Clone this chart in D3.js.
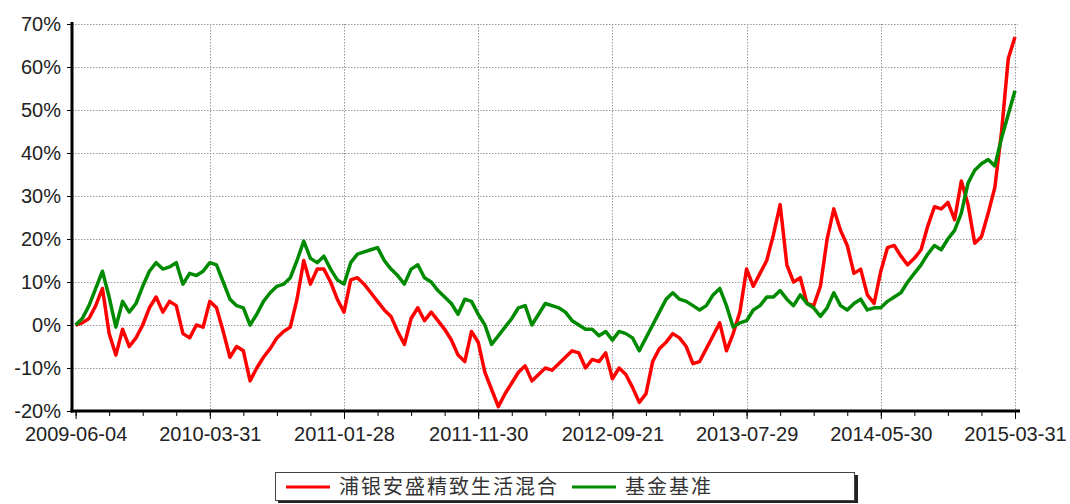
<!DOCTYPE html>
<html>
<head>
<meta charset="utf-8">
<script src="https://cdn.jsdelivr.net/npm/d3@7"></script>
<style>
  html, body { margin: 0; padding: 0; background: #fff; }
  svg { display: block; }
</style>
</head>
<body>
<svg id="chart" width="1070" height="504"></svg>
<script>
const tickLabels = ["2009-06-04","2010-03-31","2011-01-28","2011-11-30","2012-09-21","2013-07-29","2014-05-30","2015-03-31"];
const yTicks = [-20, -10, 0, 10, 20, 30, 40, 50, 60, 70];
const seriesNames = ["浦银安盛精致生活混合", "基金基准"];
const fundReturn = [
  0, 0.5, 1.5, 4.5, 8.5, -2, -7, -1, -5, -3,
  0, 4, 6.5, 3, 5.5, 4.5, -2, -3, 0, -0.5,
  5.5, 4, -1.5, -7.5, -5, -6, -13, -10, -7.5, -5.5,
  -3, -1.5, -0.5, 6, 15, 9.5, 13, 13, 10, 6,
  3, 10.5, 11, 9.5, 7.5, 5.5, 3.5, 2, -1.5, -4.5,
  1.5, 4, 1, 3, 1, -1, -3.5, -7, -8.5, -1.5,
  -4, -11, -15, -19, -16, -13.5, -11, -9.5, -13, -11.5,
  -10, -10.5, -9, -7.5, -6, -6.5, -10, -8, -8.5, -6.5,
  -12.5, -10, -11.5, -14.5, -18, -16, -8.5, -5.5, -4, -2,
  -3, -5, -9, -8.5, -5.5, -2.5, 0.5, -6, -2, 3,
  13, 9, 12, 15, 21, 28, 14, 10, 11, 5,
  4.5, 9, 20, 27, 22, 18.5, 12, 13, 7, 5,
  12.5, 18, 18.5, 16, 14, 15.5, 17.5, 23, 27.5, 27,
  28.5, 24.5, 33.5, 28, 19, 20.5, 26, 32, 45, 62,
  67
];
const benchReturn = [
  0, 1.5, 4.5, 8.5, 12.5, 6.5, -0.5, 5.5, 3, 5,
  9, 12.5, 14.5, 13, 13.5, 14.5, 9.5, 12, 11.5, 12.5,
  14.5, 14, 10, 6, 4.5, 4, 0, 2.5, 5.5, 7.5,
  9, 9.5, 11, 15, 19.5, 15.5, 14.5, 16, 13, 10.5,
  9.5, 14.5, 16.5, 17, 17.5, 18, 15, 13, 11.5, 9.5,
  13, 14, 11, 10, 8, 6.5, 5, 2.5, 6, 5.5,
  2.5, 0, -4.5, -2.5, -0.5, 1.5, 4, 4.5, 0, 2.5,
  5, 4.5, 4, 3, 1, 0, -1, -1, -2.5, -1.5,
  -3.5, -1.5, -2, -3, -6, -3, 0, 3, 6, 7.5,
  6, 5.5, 4.5, 3.5, 4.5, 7, 8.5, 4.5, -0.5, 0.5,
  1, 3.5, 4.5, 6.5, 6.5, 8, 6, 4.5, 7, 5,
  4, 2, 4, 7.5, 4.5, 3.5, 5, 6, 3.5, 4,
  4, 5.5, 6.5, 7.5, 10, 12, 14, 16.5, 18.5, 17.5,
  20, 22, 26, 33, 36, 37.5, 38.5, 37, 43.5, 49,
  54.5
];
const samplesPerLabel = 20;   // samples between two labelled dates
const minorPerLabel = 4;      // minor ticks between two labelled dates

// ---- layout ----
const svg = d3.select("#chart");
const axisX = 72, plotRight = 1018, plotTop = 24, plotBottom = 411;
const lastIndex = samplesPerLabel * (tickLabels.length - 1);

const x = d3.scaleLinear().domain([0, lastIndex]).range([75.6, 1015]);
const y = d3.scaleLinear().domain([-20, 70]).range([plotBottom, plotTop]);

const font = "'Liberation Sans', Arial, sans-serif";

// grid
const grid = svg.append("g").attr("stroke", "#9a9a9a").attr("stroke-width", 1)
  .attr("stroke-dasharray", "1.5,1.5").attr("fill", "none");
grid.selectAll("line.h").data(yTicks).join("line")
  .attr("x1", axisX).attr("x2", plotRight)
  .attr("y1", d => Math.round(y(d)) + 0.5).attr("y2", d => Math.round(y(d)) + 0.5);
grid.selectAll("line.v").data(tickLabels.slice(1)).join("line")
  .attr("x1", (d, i) => Math.round(x((i + 1) * samplesPerLabel)) + 0.5)
  .attr("x2", (d, i) => Math.round(x((i + 1) * samplesPerLabel)) + 0.5)
  .attr("y1", plotTop).attr("y2", plotBottom);

// lines
const line = d3.line().x((d, i) => x(i)).y(d => y(d)).curve(d3.curveLinear);
svg.append("path").datum(fundReturn).attr("d", line)
  .attr("fill", "none").attr("stroke", "#ff0000").attr("stroke-width", 3.5)
  .attr("stroke-linejoin", "round");
svg.append("path").datum(benchReturn).attr("d", line)
  .attr("fill", "none").attr("stroke", "#008a00").attr("stroke-width", 3.5)
  .attr("stroke-linejoin", "round");

// y axis
const yAxis = d3.axisLeft(y).tickValues(yTicks).tickFormat(d => d + "%").tickSize(5).tickPadding(6);
const gy = svg.append("g").attr("transform", `translate(${axisX},0)`).call(yAxis);
gy.select(".domain").remove();
gy.selectAll(".tick line").attr("stroke", "#000");
gy.selectAll(".tick text").attr("font-family", font).attr("font-size", 20).attr("fill", "#222");
svg.append("line").attr("x1", axisX).attr("x2", axisX).attr("y1", plotTop - 2).attr("y2", plotBottom + 1.5)
  .attr("stroke", "#000").attr("stroke-width", 3);

// x axis: minor ticks
const minorTicks = d3.range(0, lastIndex + 1, samplesPerLabel / minorPerLabel);
const gxMinor = svg.append("g").attr("transform", `translate(0,${plotBottom})`)
  .call(d3.axisBottom(x).tickValues(minorTicks).tickSize(5).tickFormat(""));
gxMinor.select(".domain").remove();
gxMinor.selectAll(".tick line").attr("stroke", "#000");
// major ticks + labels
const majorTicks = tickLabels.map((d, i) => i * samplesPerLabel);
const gx = svg.append("g").attr("transform", `translate(0,${plotBottom})`)
  .call(d3.axisBottom(x).tickValues(majorTicks).tickSize(8).tickPadding(8)
    .tickFormat((d, i) => tickLabels[i]));
gx.select(".domain").remove();
gx.selectAll(".tick line").attr("stroke", "#000");
gx.selectAll(".tick text").attr("font-family", font).attr("font-size", 20).attr("fill", "#222");
svg.append("line").attr("x1", axisX - 1.5).attr("x2", 1020).attr("y1", plotBottom).attr("y2", plotBottom)
  .attr("stroke", "#000").attr("stroke-width", 3);

// legend
const lg = svg.append("g");
lg.append("rect").attr("x", 278).attr("y", 475).attr("width", 580).attr("height", 28).attr("fill", "#222");
lg.append("rect").attr("x", 275.5).attr("y", 472.5).attr("width", 579).attr("height", 28)
  .attr("fill", "#fff").attr("stroke", "#444").attr("stroke-width", 1);
const legendItems = [
  {name: seriesNames[0], color: "#ff0000", x0: 286},
  {name: seriesNames[1], color: "#008a00", x0: 572}
];
legendItems.forEach(it => {
  lg.append("line").attr("x1", it.x0).attr("x2", it.x0 + 44).attr("y1", 487).attr("y2", 487)
    .attr("stroke", it.color).attr("stroke-width", 3);
  lg.append("text").attr("x", it.x0 + 53).attr("y", 487).attr("dy", "0.36em")
    .attr("font-family", "'Noto Sans CJK SC', sans-serif").attr("font-size", 20)
    .attr("letter-spacing", 2).attr("fill", "#333").text(it.name);
});
</script>
</body>
</html>
